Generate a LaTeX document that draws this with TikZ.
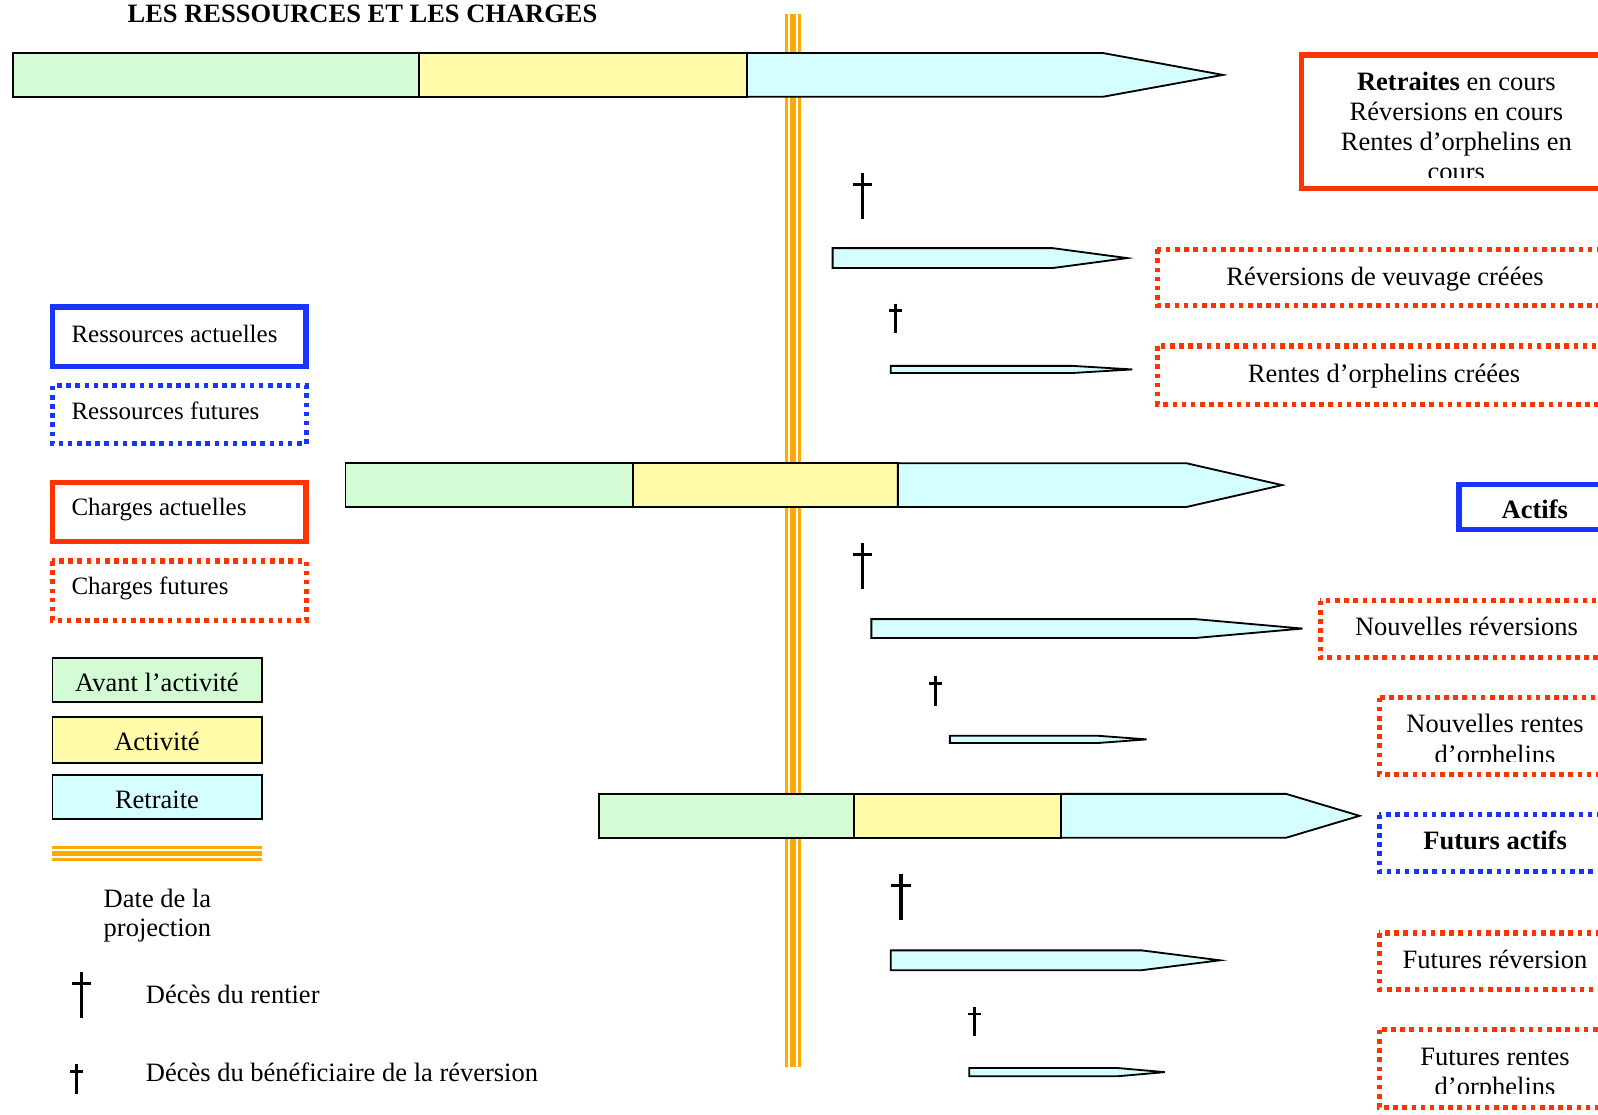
\documentclass[tikz,border=0pt]{standalone}
\usepackage{fontspec}
\setmainfont{Liberation Serif}
\definecolor{lgreen}{HTML}{D4FCD4}
\definecolor{lyellow}{HTML}{FFFBA8}
\definecolor{lcyan}{HTML}{D4FEFF}
\definecolor{redc}{HTML}{FF3300}
\definecolor{bluec}{HTML}{1A33FF}
\definecolor{orangec}{HTML}{FFAA00}
\newcommand\lifebar[5]{% x1, xrect, xpoint, ytop, ybot
  \filldraw[fill=lcyan,segline] (#1,#4) -- (#2,#4) -- (#3,{(#4+#5)/2}) -- (#2,#5) -- (#1,#5) -- cycle;}
\newcommand\tribar[7]{% x1,x2,x3,xrect,xpoint,ytop,ybot
  \filldraw[fill=lgreen,segline] (#1,#6) rectangle (#2,#7);
  \filldraw[fill=lyellow,segline] (#2,#6) rectangle (#3,#7);
  \lifebar{#3}{#4}{#5}{#6}{#7}}
\newcommand\bigcross[2]{%
  \draw[line width=3.3pt] (#1,#2) -- (#1,{#2+45});
  \draw[line width=3pt] ({#1-9.5},{#2+11}) -- ({#1+9.5},{#2+11});}
\newcommand\smallcross[2]{%
  \draw[line width=3.1pt] (#1,#2) -- (#1,{#2+29});
  \draw[line width=2.8pt] ({#1-6.5},{#2+7}) -- ({#1+6.5},{#2+7});}
\begin{document}
\begin{tikzpicture}[x=1pt,y=-1pt,
  segline/.style={draw=black,line width=1.8pt},
  redsolid/.style={draw=redc,line width=5.5pt},
  bluesolid/.style={draw=bluec,line width=5.5pt},
  reddot/.style={draw=redc,line width=5pt,dash pattern=on 4.5pt off 4.5pt},
  bluedot/.style={draw=bluec,line width=5pt,dash pattern=on 4.5pt off 4.5pt},
  txt/.style={font=\fontsize{26}{30}\selectfont,inner sep=0pt,anchor=base},
  ltxt/.style={font=\fontsize{24.5}{28}\selectfont,inner sep=0pt,anchor=base west}]
\useasboundingbox (0,0) rectangle (1568,1094);
\clip (0,0) rectangle (1568,1094);
\fill[white] (0,0) rectangle (1568,1094);

% title
\node[txt,anchor=base west,font=\fontsize{26}{30}\selectfont\bfseries] (title) at (125,22.5) {LES RESSOURCES ET LES CHARGES};

% projection date line
\draw[orangec,line width=15pt] (778,14) -- (778,1047);
\draw[white,line width=9.6pt] (778,14) -- (778,1047);
\draw[orangec,line width=5.3pt] (778,14) -- (778,1047);

% bars
\tribar{13}{411}{733}{1082}{1200}{52}{95}
\tribar{339}{621}{881}{1164}{1258}{454.5}{497.5}
\tribar{588}{838}{1041}{1262}{1334}{779}{822}
\lifebar{817}{1033}{1106}{243.5}{263}
\lifebar{874}{1052}{1111}{359}{366}
\lifebar{855}{1173}{1278}{607.5}{626}
\lifebar{932}{1078}{1125}{722}{729}
\lifebar{874}{1120}{1197}{932.5}{952}
\lifebar{951}{1097}{1143}{1048}{1056}

% crosses
\bigcross{846}{170}
\smallcross{879}{298}
\bigcross{846}{533}
\smallcross{918}{663.5}
\bigcross{884}{858}
\smallcross{956}{988}

% right boxes
\draw[redsolid] (1277,53.7) rectangle (1600,185);
\begin{scope}
\clip (1280,56) rectangle (1568,174);
\node[txt] (ret1) at (1429,88.5) {\textbf{Retraites} en cours};
\node[txt] (ret2) at (1429,118.5) {Réversions en cours};
\node[txt] (ret3) at (1429,147.5) {Rentes d’orphelins en};
\node[txt] (ret4) at (1429,177.5) {cours};
\end{scope}

\draw[reddot] (1135.5,244.5) rectangle (1600,299.5);
\node[txt] (rvc) at (1359,280) {Réversions de veuvage créées};
\draw[reddot] (1135.5,339.5) rectangle (1600,396.5);
\node[txt] (roc) at (1358,375) {Rentes d’orphelins créées};

\draw[bluesolid] (1431.5,475.5) rectangle (1600,519.5);
\node[txt] (act) at (1506,509) {\textbf{Actifs}};

\draw[reddot] (1295.5,589.5) rectangle (1600,645.5);
\node[txt] (nrv) at (1439,624) {Nouvelles réversions};

\draw[reddot] (1353.5,684.5) rectangle (1600,760);
\begin{scope}
\clip (1356,687) rectangle (1568,747);
\node[txt] (nro1) at (1467,719) {Nouvelles rentes};
\node[txt] (nro2) at (1467,749) {d’orphelins};
\end{scope}

\draw[bluedot] (1353.5,799.5) rectangle (1600,855.5);
\node[txt] (fact) at (1467,834) {\textbf{Futurs actifs}};

\draw[reddot] (1353.5,915.5) rectangle (1600,971);
\node[txt] (frv) at (1467,950) {Futures réversion};

\draw[reddot] (1353.5,1010.5) rectangle (1600,1087);
\begin{scope}
\clip (1356,1013) rectangle (1568,1073);
\node[txt] (fro1) at (1467,1045.5) {Futures rentes};
\node[txt] (fro2) at (1467,1075) {d’orphelins};
\end{scope}

% legend
\draw[bluesolid] (51.5,301.5) rectangle (300.5,359.5);
\node[ltxt] (lra) at (70,336) {Ressources actuelles};
\draw[bluedot] (51.5,378.5) rectangle (300.5,435.5);
\node[ltxt] (lrf) at (70,412) {Ressources futures};
\draw[redsolid] (51.5,473.5) rectangle (300.5,531.5);
\node[ltxt] (lca) at (70,506) {Charges actuelles};
\draw[reddot] (51.5,550.5) rectangle (300.5,608.5);
\node[ltxt] (lcf) at (70,583) {Charges futures};

\filldraw[fill=lgreen,segline] (51.5,646) rectangle (257,689);
\node[txt] (lav) at (154,679) {Avant l’activité};
\filldraw[fill=lyellow,segline] (51.5,703.5) rectangle (257,749);
\node[txt] (lac) at (154,736) {Activité};
\filldraw[fill=lcyan,segline] (51.5,760.5) rectangle (257,804);
\node[txt] (lre) at (154,793) {Retraite};

\draw[orangec,line width=15pt] (51.5,837.5) -- (257,837.5);
\draw[white,line width=9.6pt] (51.5,837.5) -- (257,837.5);
\draw[orangec,line width=5.3pt] (51.5,837.5) -- (257,837.5);

\node[txt,anchor=base west] (ldate1) at (101.6,890) {Date de la};
\node[txt,anchor=base west] (ldate2) at (101.6,918.5) {projection};

\bigcross{80}{954}
\node[txt,anchor=base west] (ldr) at (143,985) {Décès du rentier};
\smallcross{75}{1044}
\node[txt,anchor=base west] (ldb) at (143,1061) {Décès du bénéficiaire de la réversion};
\end{tikzpicture}
\end{document}
